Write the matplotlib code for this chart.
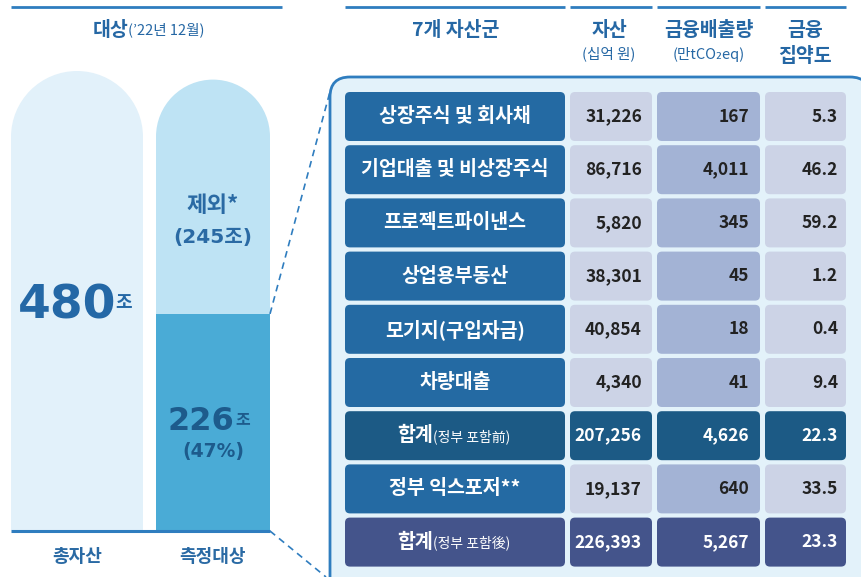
import matplotlib.pyplot as plt
from matplotlib import font_manager
from matplotlib.patches import Ellipse, FancyBboxPatch

# 데이터
bar_labels = ["총자산", "측정대상"]
total_asset = 480      # 조
measured = 226         # 조
excluded = 245         # 조
measured_pct = 47

categories = ["상장주식 및 회사채", "기업대출 및 비상장주식", "프로젝트파이낸스", "상업용부동산",
              "모기지(구입자금)", "차량대출", "합계", "정부 익스포저**", "합계"]
category_sub = ["", "", "", "", "", "", "(정부 포함前)", "", "(정부 포함後)"]
row_kind = ["asset", "asset", "asset", "asset", "asset", "asset", "total", "gov", "total2"]
assets = [31226, 86716, 5820, 38301, 40854, 4340, 207256, 19137, 226393]      # 십억 원
emissions = [167, 4011, 345, 45, 18, 41, 4626, 640, 5267]                      # 만tCO2eq
intensity = [5.3, 46.2, 59.2, 1.2, 0.4, 9.4, 22.3, 33.5, 23.3]

KR = "Noto Sans CJK KR"
names = {f.name for f in font_manager.fontManager.ttflist}
NUM = "Liberation Sans Narrow" if "Liberation Sans Narrow" in names else KR

BLUE = "#2f7dbf"
TXT = "#2567a4"
CAT = "#246aa3"
LIGHT = "#ccd3e6"
EMIS = "#a3b3d5"
TOT1 = "#1c5a85"
TOT2 = "#44548b"

fig = plt.figure(figsize=(8.62, 5.77), dpi=100)

# ---- 왼쪽 막대 ----
base_px, top_px = 530, 71
k = (base_px - top_px) / total_asset   # px per 조
axb = fig.add_axes([0, (577 - base_px) / 577, 290 / 862, (base_px - top_px) / 577])
axb.set_xlim(0, 290)
axb.set_ylim(0, total_asset)
axb.axis("off")

# 전체 캔버스 (픽셀 좌표), 막대 위에 그림
ax = fig.add_axes([0, 0, 1, 1])
ax.set_xlim(0, 862)
ax.set_ylim(577, 0)
ax.axis("off")


def rounded_bar(x, bottom, top, w, color):
    r = (w / 2) / k
    axb.bar(x, top - r - bottom, width=w, bottom=bottom, color=color, linewidth=0)
    axb.add_patch(Ellipse((x, top - r), w, 2 * r, color=color, linewidth=0))


rounded_bar(77, 0, total_asset, 132, "#e2f1fa")
axb.bar(213, measured, width=114, color="#4aabd6", linewidth=0)
rounded_bar(213, measured, measured + excluded, 114, "#bee3f4")

# 기준선, 헤더선
ax.plot([11, 270], [base_px + 1, base_px + 1], color=BLUE, lw=2.2, solid_capstyle="butt")
ax.plot([11, 282], [7, 7], color=BLUE, lw=2, solid_capstyle="butt")
for x0, x1 in [(345, 565), (570, 652), (657, 760), (765, 846)]:
    ax.plot([x0, x1], [7, 7], color=BLUE, lw=2, solid_capstyle="butt")

ax.text(128, 30, "대상", ha="right", va="center", fontsize=14, fontweight="bold", color=TXT, family=KR)
ax.text(128, 30, "(’22년 12월)", ha="left", va="center", fontsize=10.5, color=TXT, family=KR)

ax.text(116, 306, f"{total_asset}", ha="right", va="center", fontsize=34, fontweight="bold",
        color="#2468a6", family="DejaVu Sans")
ax.text(115, 303, "조", ha="left", va="center", fontsize=13, fontweight="bold", color="#2468a6", family=KR)

ax.text(213, 205, "제외*", ha="center", va="center", fontsize=16, fontweight="bold", color="#2a6aa4", family=KR)
ax.text(213, 237, f"({excluded}조)", ha="center", va="center", fontsize=14.5, fontweight="bold",
        color="#2a6aa4", family=["DejaVu Sans", KR])

ax.text(234, 421, f"{measured}", ha="right", va="center", fontsize=23, fontweight="bold",
        color="#1d5b8c", family="DejaVu Sans")
ax.text(235, 419, "조", ha="left", va="center", fontsize=11.5, fontweight="bold", color="#1d5b8c", family=KR)
ax.text(213, 452, f"({measured_pct}%)", ha="center", va="center", fontsize=13.5, fontweight="bold",
        color="#1d5b8c", family="DejaVu Sans")

for x, lab in zip([77, 213], bar_labels):
    ax.text(x, 556, lab, ha="center", va="center", fontsize=13, fontweight="bold", color="#2a6aa4", family=KR)

# 점선 연결
y_div = base_px - measured * k
ax.plot([270, 331], [y_div, 88], color=BLUE, lw=1.2, ls=(0, (4, 3)))
ax.plot([270, 326], [base_px + 1, 577], color=BLUE, lw=1.2, ls=(0, (4, 3)))

# ---- 오른쪽 표 ----
ax.text(456, 30, "7개 자산군", ha="center", va="center", fontsize=14, fontweight="bold", color=TXT, family=KR)
ax.text(609, 30, "자산", ha="center", va="center", fontsize=14, fontweight="bold", color=TXT, family=KR)
ax.text(609, 54, "(십억 원)", ha="center", va="center", fontsize=10.5, color=TXT, family=KR)
ax.text(709, 30, "금융배출량", ha="center", va="center", fontsize=14, fontweight="bold", color=TXT, family=KR)
ax.text(709, 54, "(만tCO₂eq)", ha="center", va="center", fontsize=10.5, color=TXT, family=[KR, "DejaVu Sans"])
ax.text(805, 30, "금융", ha="center", va="center", fontsize=14, fontweight="bold", color=TXT, family=KR)
ax.text(805, 56, "집약도", ha="center", va="center", fontsize=14, fontweight="bold", color=TXT, family=KR)

ax.add_patch(FancyBboxPatch((330, 77), 540, 540, boxstyle="round,pad=0,rounding_size=20",
                            facecolor="#e3f2fa", edgecolor=BLUE, lw=2))

cols = [(345, 565), (570, 652), (657, 760), (765, 846)]
style = {
    "asset": ([CAT, LIGHT, EMIS, LIGHT], "#222222"),
    "gov": ([CAT, LIGHT, EMIS, LIGHT], "#222222"),
    "total": ([TOT1] * 4, "white"),
    "total2": ([TOT2] * 4, "white"),
}
row_top, pitch, row_h = 92, 53.2, 49
for i, kind in enumerate(row_kind):
    y0 = row_top + i * pitch
    yc = y0 + row_h / 2
    fills, num_color = style[kind]
    for (x0, x1), fc in zip(cols, fills):
        ax.add_patch(FancyBboxPatch((x0, y0), x1 - x0, row_h, boxstyle="round,pad=0,rounding_size=5",
                                    facecolor=fc, edgecolor="none"))
    if category_sub[i]:
        ax.text(433, yc, categories[i], ha="right", va="center", fontsize=14, fontweight="bold",
                color="white", family=KR)
        ax.text(433, yc + 1, category_sub[i], ha="left", va="center", fontsize=10,
                color="white", family=KR)
    else:
        ax.text(455, yc, categories[i], ha="center", va="center", fontsize=14, fontweight="bold",
                color="white", family=KR)
    ax.text(642, yc, f"{assets[i]:,}", ha="right", va="center", fontsize=12.5, fontweight="bold",
            color=num_color, family=NUM)
    ax.text(749, yc, f"{emissions[i]:,}", ha="right", va="center", fontsize=12.5, fontweight="bold",
            color=num_color, family=NUM)
    ax.text(838, yc, f"{intensity[i]:.1f}", ha="right", va="center", fontsize=12.5, fontweight="bold",
            color=num_color, family=NUM)

fig.savefig("out.png", dpi=100)
